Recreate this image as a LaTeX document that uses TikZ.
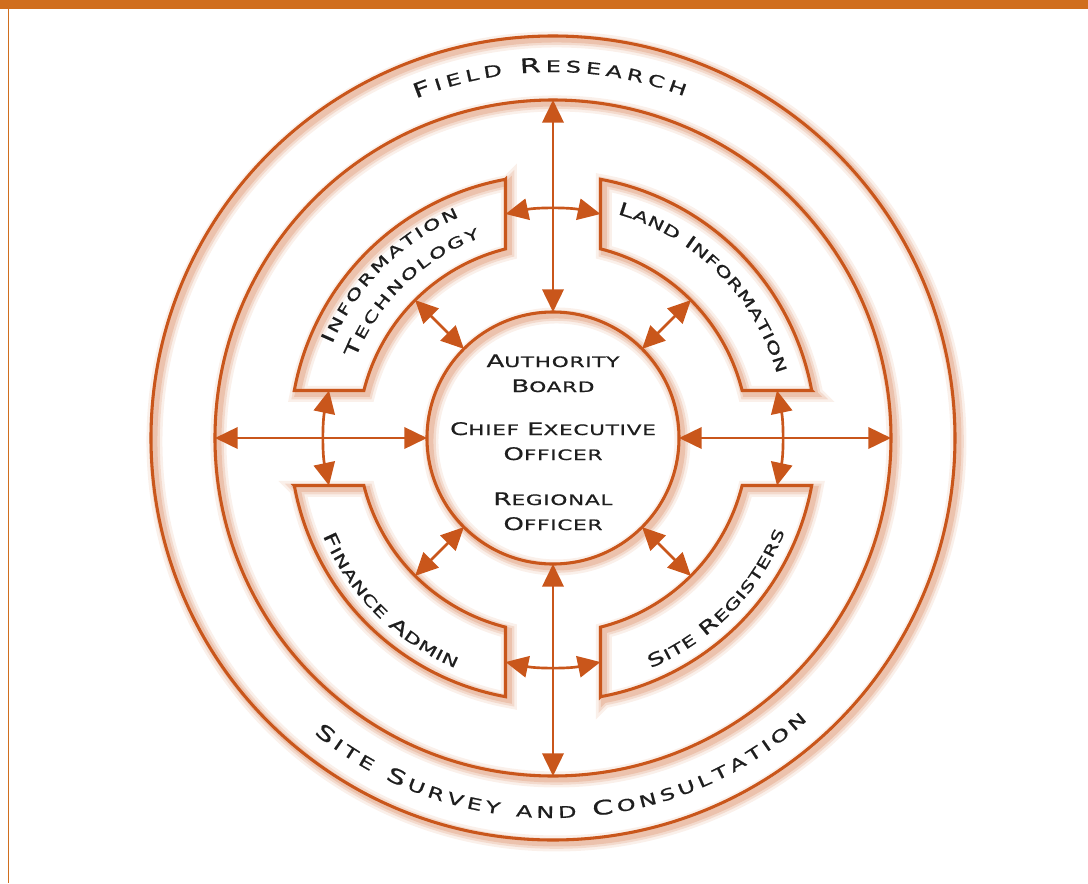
\documentclass[tikz,border=0pt]{standalone}
\usepackage{fontspec}
\usetikzlibrary{arrows.meta,decorations.text}
\newfontfamily\wide{DejaVu Sans}[FakeStretch=1.5,FakeBold=0.8,LetterSpace=5]
\definecolor{lc}{RGB}{201,86,27}
\definecolor{barc}{RGB}{208,110,30}
\definecolor{txt}{RGB}{30,30,30}
% font sizes for the fake small caps
\newcommand\cbig{\wide\fontsize{13pt}{15pt}\selectfont}
\newcommand\csml{\wide\fontsize{10.8pt}{12pt}\selectfont}
\newcommand\fbig{\wide\fontsize{15pt}{17pt}\selectfont}
\newcommand\fsml{\wide\fontsize{12pt}{14pt}\selectfont}
\newcommand\sbig{\wide\fontsize{13.5pt}{15pt}\selectfont}
\newcommand\ssml{\wide\fontsize{11pt}{13pt}\selectfont}
\newcommand\fsc[2]{{\cbig #1}{\csml #2}}
\begin{document}
\begin{tikzpicture}[x=0.75pt,y=0.75pt,
  glow/.style={
    preaction={draw=lc, draw opacity=0.09, line width=12pt, transform canvas={shift={(2.6pt,-2.6pt)}}},
    preaction={draw=lc, draw opacity=0.14, line width=8pt, transform canvas={shift={(2.6pt,-2.6pt)}}},
    preaction={draw=lc, draw opacity=0.18, line width=4.5pt, transform canvas={shift={(2.6pt,-2.6pt)}}}},
  ring/.style={glow, draw=lc, line width=2.3pt},
  disc/.style={ring, circle, inner sep=0pt, outer sep=0pt},
  arr/.style={draw=lc, line width=2pt,
    {Triangle[length=17pt,width=16pt]}-{Triangle[length=17pt,width=16pt]}},
  ctext/.style={text=txt, anchor=base, inner sep=0pt},
  arctext/.style={decorate, decoration={text along path, text align=fit to path, text color=txt, text={#1}}}
]
\useasboundingbox (-553,-445) rectangle (535,438);
% header bar and left rule
\fill[barc] (-553,429) rectangle (535,438);
\fill[barc] (-545,-445) rectangle (-543.5,429);

% rings
\node[disc, minimum size=603pt] (outer) at (0,0) {};
\node[disc, minimum size=507pt] (inner) at (0,0) {};
% four department segments
\foreach \r in {0,90,180,270}
  \draw[ring, rotate=\r] (-47.5,258.7) -- (-47.5,189.1)
    arc[start angle=104.1, end angle=165.9, radius=195] -- (-258.7,47.5)
    arc[start angle=169.6, end angle=100.4, radius=263] -- cycle;
\node[disc, minimum size=189pt] (core) at (0,0) {};

% radial connectors
\draw[arr] (inner.north) -- (core.north);
\draw[arr] (core.south) -- (inner.south);
\draw[arr] (inner.west) -- (core.west);
\draw[arr] (core.east) -- (inner.east);
\foreach \a in {45,135,225,315} {
  \coordinate (s\a) at (\a:195);
  \draw[arr] (core.\a) -- (s\a);
}
% connectors between neighbouring segments
\foreach \a in {0,90,180,270} {
  \coordinate (p\a) at ({\a+11.97}:229);
  \coordinate (q\a) at ({\a-11.97}:229);
  \draw[arr] (p\a) arc[start angle={\a+11.97}, end angle={\a-11.97}, radius=229];
}

% centre labels
\node[ctext] (l1) at (0,71)  {\fsc{A}{UTHORITY}};
\node[ctext] (l2) at (0,46)  {\fsc{B}{OARD}};
\node[ctext] (l3) at (0,3)   {\fsc{C}{HIEF}\hspace{6pt}\fsc{E}{XECUTIVE}};
\node[ctext] (l4) at (0,-22) {\fsc{O}{FFICER}};
\node[ctext] (l5) at (0,-67) {\fsc{R}{EGIONAL}};
\node[ctext] (l6) at (0,-92) {\fsc{O}{FFICER}};

% curved labels
\path[arctext={|\fbig|F|\fsml|IELD |\fbig|R|\fsml|ESEARCH}]
  (112:366) arc[start angle=112, end angle=69, radius=366];
\path[arctext={|\fbig|S|\fsml|ITE |\fbig|S|\fsml|URVEY AND |\fbig|C|\fsml|ONSULTATION}]
  (231:380) arc[start angle=231, end angle=312, radius=380];
\path[arctext={|\sbig|I|\ssml|NFORMATION}]
  (157:240) arc[start angle=157, end angle=113, radius=240];
\path[arctext={|\sbig|T|\ssml|ECHNOLOGY}]
  (158:213) arc[start angle=158, end angle=110, radius=213];
\path[arctext={|\sbig|L|\ssml|AND |\sbig|I|\ssml|NFORMATION}]
  (74:233) arc[start angle=74, end angle=16, radius=233];
\path[arctext={|\sbig|F|\ssml|INANCE |\sbig|A|\ssml|DMIN}]
  (203:250) arc[start angle=203, end angle=247, radius=250];
\path[arctext={|\sbig|S|\ssml|ITE |\sbig|R|\ssml|EGISTERS}]
  (293:250) arc[start angle=293, end angle=338, radius=250];
\end{tikzpicture}
\end{document}
